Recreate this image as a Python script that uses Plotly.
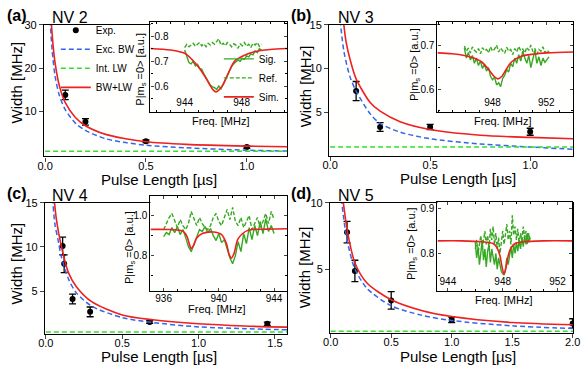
import plotly.graph_objects as go

W, H = 587, 365
FONT = "Liberation Sans"
RED = "#ee2020"
BLUE = "#3366ee"
LW_GREEN = "#33dd33"
SIG_GREEN = "#36a822"

# ---------------- (a) NV 2 ----------------
a_pulse = [0.1, 0.2, 0.5, 1.0]
a_width = [13.8, 7.6, 3.1, 1.8]
a_err = [1.1, 0.75, 0.3, 0.3]
a_bw_x = [0.025, 0.035, 0.05, 0.07, 0.1, 0.15, 0.2, 0.3, 0.4, 0.5, 0.7, 1.0, 1.2]
a_bw_y = [31, 24, 18, 13.8, 10.4, 7.3, 5.6, 3.7, 2.8, 2.2, 1.6, 1.05, 0.85]
a_tot_x = [0.03, 0.04, 0.05, 0.07, 0.1, 0.15, 0.2, 0.3, 0.4, 0.5, 0.7, 1.0, 1.2]
a_tot_y = [31, 25, 21, 16, 12, 8.6, 6.7, 4.7, 3.7, 3.0, 2.4, 2.0, 1.85]
a_lw_x = [0.0, 1.2]
a_lw_y = [0.8, 0.8]

a_freq = [944.0, 944.15, 944.3, 944.45, 944.6, 944.75, 944.9, 945.05, 945.2, 945.35,
          945.5, 945.65, 945.8, 945.95, 946.1, 946.25, 946.4, 946.55, 946.7, 946.85,
          947.0, 947.15, 947.3, 947.45, 947.6, 947.75, 947.9, 948.05, 948.2, 948.35,
          948.5, 948.65, 948.8, 948.95, 949.1, 949.25, 949.4]
a_sig = [0.745, 0.72, 0.695, 0.69, 0.70, 0.682, 0.688, 0.672, 0.668, 0.650,
         0.635, 0.622, 0.605, 0.598, 0.595, 0.588, 0.602, 0.590, 0.608, 0.625,
         0.645, 0.662, 0.680, 0.690, 0.698, 0.705, 0.700, 0.712, 0.708, 0.722,
         0.718, 0.730, 0.726, 0.742, 0.735, 0.750, 0.745]
a_ref = [0.755, 0.768, 0.758, 0.765, 0.772, 0.76, 0.768, 0.775, 0.762, 0.77,
         0.758, 0.772, 0.765, 0.775, 0.768, 0.78, 0.79, 0.765, 0.772, 0.762,
         0.775, 0.768, 0.758, 0.77, 0.765, 0.752, 0.77, 0.762, 0.775, 0.76,
         0.768, 0.755, 0.772, 0.765, 0.775, 0.76, 0.768]
a_sim_f = [941.6, 943.0, 944.0, 944.5, 945.0, 945.5, 945.8, 946.0, 946.2, 946.4,
           946.7, 947.1, 947.5, 948.2, 948.9, 950.0, 951.2]
a_sim = [0.751, 0.745, 0.732, 0.708, 0.675, 0.632, 0.603, 0.586, 0.578, 0.585,
         0.607, 0.657, 0.700, 0.724, 0.738, 0.747, 0.751]

# ---------------- (b) NV 3 ----------------
b_pulse = [0.13, 0.25, 0.5, 1.0]
b_width = [7.4, 3.3, 3.3, 2.75]
b_err = [1.1, 0.5, 0.3, 0.4]
b_bw_x = [0.05, 0.07, 0.1, 0.13, 0.2, 0.25, 0.35, 0.5, 0.75, 1.0, 1.215]
b_bw_y = [15.5, 11.8, 9.0, 7.4, 4.8, 3.7, 2.7, 1.95, 1.35, 1.0, 0.75]
b_tot_x = [0.066, 0.08, 0.1, 0.13, 0.2, 0.25, 0.35, 0.5, 0.75, 1.0, 1.215]
b_tot_y = [15.5, 13.0, 11.0, 8.8, 6.1, 5.1, 3.9, 3.0, 2.35, 2.1, 1.95]
b_lw_x = [0.0, 1.215]
b_lw_y = [1.0, 1.0]

b_freq = [945.9, 946.05, 946.2, 946.35, 946.5, 946.65, 946.8, 946.95, 947.1, 947.25,
          947.4, 947.55, 947.7, 947.85, 948.0, 948.15, 948.3, 948.45, 948.6, 948.75,
          948.9, 949.05, 949.2, 949.35, 949.5, 949.65, 949.8, 949.95, 950.1, 950.25,
          950.4, 950.55, 950.7, 950.85, 951.0, 951.15, 951.3, 951.45, 951.6, 951.75,
          951.9, 952.05, 952.2]
b_sig = [0.695, 0.672, 0.685, 0.668, 0.678, 0.660, 0.672, 0.655, 0.665, 0.648,
         0.658, 0.642, 0.650, 0.630, 0.622, 0.628, 0.610, 0.615, 0.606, 0.625,
         0.632, 0.645, 0.640, 0.660, 0.652, 0.672, 0.660, 0.680, 0.665, 0.688,
         0.672, 0.660, 0.678, 0.650, 0.670, 0.690, 0.660, 0.675, 0.655, 0.672,
         0.662, 0.668, 0.675]
b_ref = [0.700, 0.688, 0.695, 0.684, 0.698, 0.690, 0.686, 0.694, 0.682, 0.696,
         0.689, 0.692, 0.684, 0.698, 0.688, 0.693, 0.702, 0.686, 0.695, 0.690,
         0.683, 0.697, 0.688, 0.692, 0.680, 0.694, 0.686, 0.699, 0.689, 0.693,
         0.684, 0.697, 0.690, 0.702, 0.687, 0.694, 0.681, 0.692, 0.688, 0.698,
         0.684, 0.690, 0.686]
b_sim_f = [943.9, 945.0, 945.9, 946.6, 947.2, 947.8, 948.1, 948.4, 948.7, 949.0,
           949.4, 950.1, 951.0, 952.1, 954.0]
b_sim = [0.684, 0.682, 0.678, 0.672, 0.663, 0.642, 0.630, 0.624, 0.630, 0.645,
         0.663, 0.676, 0.681, 0.684, 0.686]

# ---------------- (c) NV 4 ----------------
c_pulse = [0.11, 0.12, 0.175, 0.29, 0.68, 1.45]
c_width = [10.1, 8.1, 4.1, 2.65, 1.5, 1.3]
c_err = [1.0, 1.0, 0.55, 0.55, 0.15, 0.2]
c_bw_x = [0.044, 0.06, 0.08, 0.1, 0.15, 0.2, 0.3, 0.5, 0.7, 1.0, 1.3, 1.58]
c_bw_y = [15.5, 12.5, 10.8, 9.0, 6.3, 4.8, 3.3, 2.0, 1.45, 0.95, 0.75, 0.62]
c_tot_x = [0.054, 0.07, 0.1, 0.15, 0.2, 0.3, 0.5, 0.7, 1.0, 1.3, 1.58]
c_tot_y = [15.5, 13.0, 10.2, 7.0, 5.5, 3.8, 2.3, 1.75, 1.3, 1.05, 0.92]
c_lw_x = [0.0, 1.58]
c_lw_y = [0.37, 0.37]

c_freq = [936.0, 936.2, 936.4, 936.6, 936.8, 937.0, 937.2, 937.4, 937.6, 937.8,
          938.0, 938.2, 938.4, 938.6, 938.8, 939.0, 939.2, 939.4, 939.6, 939.8,
          940.0, 940.2, 940.4, 940.6, 940.8, 941.0, 941.2, 941.4, 941.6, 941.8,
          942.0, 942.2, 942.4, 942.6, 942.8, 943.0, 943.2, 943.4, 943.6, 943.8,
          944.0]
c_sig = [0.895, 0.915, 0.905, 0.94, 0.915, 0.945, 0.905, 0.93, 0.89, 0.845,
         0.82, 0.86, 0.90, 0.93, 0.92, 0.945, 0.915, 0.935, 0.90, 0.875,
         0.91, 0.865, 0.88, 0.83, 0.79, 0.76, 0.80, 0.87, 0.82, 0.91,
         0.86, 0.94, 0.88, 0.95, 0.90, 0.97, 0.91, 0.985, 0.92, 0.95,
         0.91]
c_ref = [0.93, 0.96, 0.99, 1.01, 0.97, 0.94, 0.98, 0.95, 0.93, 0.96,
         1.02, 0.98, 0.95, 0.99, 0.96, 0.94, 0.93, 0.95, 0.99, 1.01,
         0.97, 0.95, 0.99, 1.03, 0.98, 1.04, 0.97, 0.95, 0.99, 0.94,
         0.97, 1.0, 0.93, 0.96, 0.99, 0.94, 0.97, 1.01, 0.96, 1.02,
         0.98]
c_sim_f = [935.05, 936.5, 937.4, 937.7, 937.9, 938.0, 938.15, 938.4, 938.8, 939.6,
           940.2, 940.55, 940.75, 940.9, 941.1, 941.4, 942.1, 943.5, 944.95]
c_sim = [0.931, 0.93, 0.922, 0.895, 0.85, 0.835, 0.848, 0.888, 0.91, 0.918,
         0.905, 0.86, 0.805, 0.788, 0.81, 0.885, 0.926, 0.932, 0.934]

# ---------------- (d) NV 5 ----------------
d_pulse = [0.135, 0.2, 0.5, 1.0, 2.0]
d_width = [7.8, 4.9, 2.7, 1.25, 0.98]
d_err = [0.8, 0.8, 0.65, 0.2, 0.35]
d_bw_x = [0.088, 0.12, 0.15, 0.2, 0.3, 0.5, 0.75, 1.0, 1.5, 2.0]
d_bw_y = [10.3, 8.0, 6.6, 5.05, 3.6, 2.3, 1.6, 1.2, 0.8, 0.6]
d_tot_x = [0.1, 0.13, 0.15, 0.2, 0.3, 0.5, 0.75, 1.0, 1.5, 2.0]
d_tot_y = [10.3, 8.3, 7.3, 5.5, 4.0, 2.75, 1.95, 1.5, 1.05, 0.88]
d_lw_x = [0.0, 2.004]
d_lw_y = [0.39, 0.39]

d_freq = [946.0, 946.1, 946.2, 946.3, 946.4, 946.5, 946.6, 946.7, 946.8, 946.9,
          947.0, 947.1, 947.2, 947.3, 947.4, 947.5, 947.6, 947.7, 947.8, 947.9,
          948.0, 948.1, 948.2, 948.3, 948.4, 948.5, 948.6, 948.7, 948.8, 948.9,
          949.0, 949.1, 949.2, 949.3, 949.4, 949.5, 949.6, 949.7, 949.8, 949.9,
          950.0]
d_sig = [0.825, 0.79, 0.815, 0.775, 0.80, 0.83, 0.785, 0.81, 0.77, 0.805,
         0.82, 0.78, 0.81, 0.79, 0.775, 0.80, 0.765, 0.79, 0.775, 0.76,
         0.755, 0.752, 0.765, 0.79, 0.775, 0.80, 0.815, 0.79, 0.82, 0.80,
         0.825, 0.805, 0.83, 0.81, 0.835, 0.815, 0.84, 0.82, 0.845, 0.825,
         0.835]
d_ref = [0.81, 0.83, 0.80, 0.82, 0.84, 0.81, 0.83, 0.85, 0.82, 0.84,
         0.81, 0.855, 0.83, 0.86, 0.82, 0.845, 0.81, 0.835, 0.80, 0.825,
         0.85, 0.82, 0.84, 0.865, 0.83, 0.85, 0.82, 0.885, 0.84, 0.86,
         0.83, 0.855, 0.82, 0.845, 0.83, 0.86, 0.835, 0.85, 0.82, 0.845,
         0.83]
d_sim_f = [943.24, 945.0, 946.5, 947.3, 947.6, 947.8, 947.95, 948.1, 948.25, 948.4,
           948.6, 948.9, 949.5, 951.0, 953.07]
d_sim = [0.828, 0.828, 0.826, 0.822, 0.812, 0.795, 0.77, 0.754, 0.77, 0.795,
         0.812, 0.822, 0.826, 0.828, 0.828]


def xdom(left, right):
    return [left / W, right / W]


def ydom(top, bottom):
    return [1 - bottom / H, 1 - top / H]


# main panels: data, axis ranges and pixel boxes
main_panels = [
    dict(n=1, pulse=a_pulse, width=a_width, err=a_err, bw=(a_bw_x, a_bw_y), tot=(a_tot_x, a_tot_y),
         lw=(a_lw_x, a_lw_y), xr=[-0.005, 1.2], yr=[-0.4, 30], xt=[0, 0.5, 1.0], yt=[10, 20, 30],
         box=(38, 287, 19, 153)),
    dict(n=2, pulse=b_pulse, width=b_width, err=b_err, bw=(b_bw_x, b_bw_y), tot=(b_tot_x, b_tot_y),
         lw=(b_lw_x, b_lw_y), xr=[-0.005, 1.215], yr=[0.03, 15], xt=[0, 0.5, 1.0], yt=[5, 10, 15],
         box=(330, 580, 19, 152)),
    dict(n=3, pulse=c_pulse, width=c_width, err=c_err, bw=(c_bw_x, c_bw_y), tot=(c_tot_x, c_tot_y),
         lw=(c_lw_x, c_lw_y), xr=[-0.005, 1.58], yr=[0.2, 15], xt=[0, 0.5, 1.0, 1.5], yt=[5, 10, 15],
         box=(39, 287, 200, 333)),
    dict(n=4, pulse=d_pulse, width=d_width, err=d_err, bw=(d_bw_x, d_bw_y), tot=(d_tot_x, d_tot_y),
         lw=(d_lw_x, d_lw_y), xr=[-0.005, 2.004], yr=[0.3, 10], xt=[0, 0.5, 1.0, 1.5, 2.0], yt=[5, 10],
         box=(331, 580, 200, 332)),
]

# insets: spectra, axis ranges, pixel boxes, label placement
inset_panels = [
    dict(n=5, f=a_freq, sig=a_sig, ref=a_ref, simf=a_sim_f, sim=a_sim, xr=[941.6, 951.2],
         yr=[0.497, 0.858], xt=[944, 948], yt=[0.6, 0.7, 0.8], ydt=0.05,
         xin=True, yin=True, box=(147, 287, 16, 108)),
    dict(n=6, f=b_freq, sig=b_sig, ref=b_ref, simf=b_sim_f, sim=b_sim, xr=[943.9, 954.0],
         yr=[0.547, 0.756], xt=[948, 952], yt=[0.6, 0.7], ydt=0.05,
         xin=True, yin=False, box=(441, 580, 16, 108)),
    dict(n=7, f=c_freq, sig=c_sig, ref=c_ref, simf=c_sim_f, sim=c_sim, xr=[935.05, 944.95],
         yr=[0.623, 1.098], xt=[936, 940, 944], yt=[0.8, 1.0], ydt=0.1,
         xin=False, yin=False, box=(147, 287, 193, 290)),
    dict(n=8, f=d_freq, sig=d_sig, ref=d_ref, simf=d_sim_f, sim=d_sim, xr=[943.24, 953.07],
         yr=[0.716, 0.915], xt=[944, 948, 952], yt=[0.8, 0.9], ydt=0.05,
         xin=True, yin=False, box=(441, 579, 199, 290)),
]

fig = go.Figure()
layout = {}

for p in main_panels:
    n = p["n"]
    xa, ya = f"x{n}", f"y{n}"
    first = n == 1
    fig.add_trace(go.Scatter(
        x=p["pulse"], y=p["width"], mode="markers", name="Exp.", xaxis=xa, yaxis=ya,
        marker=dict(color="black", size=6),
        error_y=dict(type="data", array=p["err"], color="black", thickness=1.3, width=3.5),
        showlegend=first, legend="legend"))
    fig.add_trace(go.Scatter(
        x=p["bw"][0], y=p["bw"][1], mode="lines", name="Exc. BW", xaxis=xa, yaxis=ya,
        line=dict(color=BLUE, width=1.5, dash="5px,3px", shape="spline", smoothing=0.8),
        showlegend=first, legend="legend"))
    fig.add_trace(go.Scatter(
        x=p["lw"][0], y=p["lw"][1], mode="lines", name="Int. LW", xaxis=xa, yaxis=ya,
        line=dict(color=LW_GREEN, width=1.5, dash="5px,3px"),
        showlegend=first, legend="legend"))
    fig.add_trace(go.Scatter(
        x=p["tot"][0], y=p["tot"][1], mode="lines", name="BW+LW", xaxis=xa, yaxis=ya,
        line=dict(color=RED, width=1.6, shape="spline", smoothing=0.8),
        showlegend=first, legend="legend"))
    l, r, t, b = p["box"]
    key = "" if n == 1 else str(n)
    layout[f"xaxis{key}"] = dict(
        domain=xdom(l, r), range=p["xr"], anchor=ya, tickvals=p["xt"], tickformat=".1f",
        showline=True, mirror=True, linecolor="black", linewidth=1.3, ticks="outside",
        ticklen=4, tickwidth=1.2, showgrid=False, zeroline=False, ticklabelstandoff=-5,
        ticklabeloverflow="allow", tickfont=dict(size=11, family=FONT, color="black"))
    layout[f"yaxis{key}"] = dict(
        domain=ydom(t, b), range=p["yr"], anchor=xa, tickvals=p["yt"],
        showline=True, mirror=True, linecolor="black", linewidth=1.3, ticks="outside",
        ticklen=4, tickwidth=1.2, showgrid=False, zeroline=False,
        ticklabeloverflow="allow", tickfont=dict(size=11, family=FONT, color="black"))

for p in inset_panels:
    n = p["n"]
    xa, ya = f"x{n}", f"y{n}"
    first = n == 5
    fig.add_trace(go.Scatter(
        x=p["f"], y=p["sig"], mode="lines", name="Sig.", xaxis=xa, yaxis=ya,
        line=dict(color=SIG_GREEN, width=1.4), showlegend=first, legend="legend2"))
    fig.add_trace(go.Scatter(
        x=p["f"], y=p["ref"], mode="lines", name="Ref.", xaxis=xa, yaxis=ya,
        line=dict(color=SIG_GREEN, width=1.4, dash="4px,2px"), showlegend=first, legend="legend2"))
    fig.add_trace(go.Scatter(
        x=p["simf"], y=p["sim"], mode="lines", name="Sim.", xaxis=xa, yaxis=ya,
        line=dict(color=RED, width=1.6, shape="spline", smoothing=0.8),
        showlegend=first, legend="legend2"))
    l, r, t, b = p["box"]
    layout[f"xaxis{n}"] = dict(
        domain=xdom(l, r), range=p["xr"], anchor=ya, tickvals=p["xt"],
        ticklabelposition="inside" if p["xin"] else "outside", ticklabeloverflow="allow",
        ticklabelstandoff=0 if p["xin"] else -2,
        showline=True, mirror="allticks", linecolor="black", linewidth=1.2, ticks="inside",
        ticklen=3, tickwidth=1, showgrid=False, zeroline=False,
        minor=dict(ticks="inside", dtick=1, ticklen=2, tickcolor="black", showgrid=False),
        tickfont=dict(size=10, family=FONT, color="black"))
    layout[f"yaxis{n}"] = dict(
        domain=ydom(t, b), range=p["yr"], anchor=xa, tickvals=p["yt"], tickformat=".1f",
        ticklabelposition="inside" if p["yin"] else "outside", ticklabeloverflow="allow",
        showline=True, mirror="allticks", linecolor="black", linewidth=1.2, ticks="inside",
        ticklen=3, tickwidth=1, showgrid=False, zeroline=False,
        minor=dict(ticks="inside", dtick=p["ydt"], ticklen=2, tickcolor="black", showgrid=False),
        tickfont=dict(size=10, family=FONT, color="black"))


def note(text, x, y, size, angle=0):
    return dict(text=text, x=x / W, y=1 - y / H, xref="paper", yref="paper", showarrow=False,
                textangle=angle, xanchor="center", yanchor="middle", borderpad=0,
                font=dict(size=size, family=FONT, color="black"))


annotations = [
    note("<b>(a)</b>", 10, 10, 16), note("NV 2", 65, 12, 16),
    note("<b>(b)</b>", 301, 10, 16), note("NV 3", 358, 12, 16),
    note("<b>(c)</b>", 10, 191, 16), note("NV 4", 65, 193, 16),
    note("<b>(d)</b>", 301, 191, 16), note("NV 5", 358, 193, 16),
    note("Width [MHz]", 10, 78, 15, -90), note("Width [MHz]", 306, 82, 15, -90),
    note("Width [MHz]", 10, 262, 15, -90), note("Width [MHz]", 305, 266, 15, -90),
    note("Pulse Length [µs]", 156, 176, 15), note("Pulse Length [µs]", 462, 175, 15),
    note("Pulse Length [µs]", 156, 356, 15), note("Pulse Length [µs]", 462, 356, 15),
    note("Freq. [MHz]", 219, 117, 11), note("Freq. [MHz]", 508, 117, 11),
    note("Freq. [MHz]", 215, 308, 11), note("Freq. [MHz]", 509, 299, 11),
    note("P|m<sub>s</sub> =0&gt; [a.u.]", 137, 64, 11, -90),
    note("P|m<sub>s</sub> =0&gt; [a.u.]", 418, 60, 11, -90),
    note("P|m<sub>s</sub> =0&gt; [a.u.]", 126, 245, 11, -90),
    note("P|m<sub>s</sub> =0&gt; [a.u.]", 415, 242, 11, -90),
]

fig.update_layout(
    width=W, height=H, autosize=False,
    margin=dict(l=0, r=0, t=0, b=0),
    paper_bgcolor="white", plot_bgcolor="#fffffe",
    font=dict(family=FONT, color="black"),
    annotations=annotations,
    legend=dict(x=50 / W, y=1 - 10 / H, xanchor="left", yanchor="top",
                bgcolor="rgba(0,0,0,0)", font=dict(size=10, family=FONT),
                itemwidth=30, tracegroupgap=0),
    legend2=dict(x=217 / W, y=1 - 39 / H, xanchor="left", yanchor="top",
                 bgcolor="rgba(0,0,0,0)", font=dict(size=10, family=FONT),
                 itemwidth=30, tracegroupgap=0),
    **layout,
)

# drop the default page margin so the figure sits at the window's top-left corner
fig.write_html("out.html", config={"displayModeBar": False},
               post_script="document.body.style.margin='0px';")
